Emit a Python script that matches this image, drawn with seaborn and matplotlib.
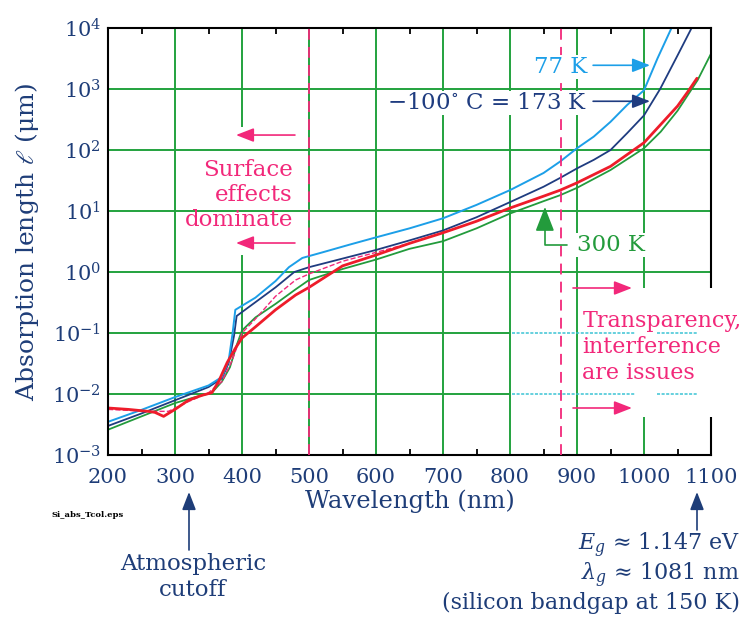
import matplotlib
matplotlib.use("Agg")
import matplotlib.pyplot as plt
import pandas as pd
import seaborn as sns
from matplotlib.patches import Rectangle
from matplotlib.ticker import FixedLocator, LogLocator, NullLocator

# absorption length of Si (um) vs wavelength (nm)
wl_77k = [200, 250, 300, 350, 370, 380, 386, 390, 420, 450, 470, 490, 520, 560, 600,
          650, 700, 750, 800, 850, 875, 900, 925, 950, 975, 1000, 1020, 1041]
len_77k = [0.0035, 0.0055, 0.0089, 0.0138, 0.019, 0.035, 0.10, 0.24, 0.38, 0.71, 1.2,
           1.7, 2.1, 2.8, 3.7, 5.2, 7.6, 12.6, 22, 42, 65, 107, 166, 290, 550, 955,
           3160, 10000]

wl_173k = [200, 250, 300, 350, 370, 380, 388, 392, 420, 450, 478, 500, 550, 600, 650,
           700, 750, 800, 850, 875, 900, 925, 950, 975, 1000, 1024, 1050, 1071]
len_173k = [0.0030, 0.0048, 0.0079, 0.013, 0.018, 0.032, 0.089, 0.19, 0.32, 0.56, 1.0,
            1.2, 1.66, 2.3, 3.3, 4.8, 7.9, 14, 25, 35, 50, 69, 100, 190, 370, 1000,
            3550, 10000]

wl_red = [200, 230, 260, 270, 283, 300, 320, 340, 355, 365, 378, 390, 400, 420, 450,
          480, 500, 550, 600, 650, 700, 750, 800, 850, 875, 900, 950, 1000, 1025, 1050,
          1065, 1079]
len_red = [0.0059, 0.0056, 0.0052, 0.0050, 0.0043, 0.0056, 0.0079, 0.0095, 0.0105, 0.016,
           0.033, 0.056, 0.083, 0.126, 0.24, 0.42, 0.56, 1.26, 1.9, 2.95, 4.4, 6.8, 11.2,
           17.5, 22, 29, 54, 132, 263, 525, 890, 1500]

wl_300k = [200, 250, 300, 330, 355, 370, 382, 392, 400, 420, 450, 480, 500, 550, 600,
           650, 700, 750, 800, 850, 875, 900, 950, 1000, 1025, 1050, 1080, 1100]
len_300k = [0.0026, 0.0043, 0.0071, 0.0089, 0.0105, 0.016, 0.0275, 0.063, 0.11, 0.18,
            0.30, 0.52, 0.74, 1.12, 1.6, 2.4, 3.2, 5.2, 9.1, 14.5, 18.2, 24, 47, 107,
            200, 440, 1400, 3800]

wl_dash = [200, 260, 290, 320, 350, 370, 385, 400, 420, 450, 480, 500, 550, 600, 650]
len_dash = [0.0056, 0.0052, 0.0052, 0.0075, 0.0105, 0.016, 0.035, 0.10, 0.17, 0.40,
            0.74, 0.93, 1.5, 2.1, 2.95]

x_ticks = [200, 300, 400, 500, 600, 700, 800, 900, 1000, 1100]
surface_limit_nm = 500
transparency_limit_nm = 876

NAVY = "#1e3d78"
GRID = "#22a23e"
PINK = "#f2287a"
LIGHT_BLUE = "#1c9fe8"
DARK_BLUE = "#1f3c80"
RED = "#ee1c2a"
GREEN = "#239b3c"
CYAN = "#3cc4d4"

sns.set_theme(style="white")
plt.rcParams["font.family"] = ["DejaVu Serif"]
plt.rcParams["mathtext.fontset"] = "dejavuserif"

fig, ax = plt.subplots(figsize=(7.49, 6.2), dpi=100)
fig.subplots_adjust(left=0.1442, right=0.9493, bottom=0.2661, top=0.9548)

ax.set_yscale("log")
ax.set_xlim(200, 1100)
ax.set_ylim(1e-3, 1e4)

# grid drawn by hand, it has gaps in the original
for x in x_ticks[1:-1]:
    if x == 400:
        ax.vlines([x, x], [1e-3, 240], [1.9, 1e4], color=GRID, lw=1.4, zorder=1)
    else:
        ax.axvline(x, color=GRID, lw=1.4, zorder=1)
for e in range(-2, 4):
    if e < 0:
        ax.hlines(10.0 ** e, 200, 800, color=GRID, lw=1.4, zorder=1)
    else:
        ax.axhline(10.0 ** e, color=GRID, lw=1.4, zorder=1)

curves = [
    (wl_300k, len_300k, GREEN, 1.3, "-"),
    (wl_173k, len_173k, DARK_BLUE, 1.3, "-"),
    (wl_77k, len_77k, LIGHT_BLUE, 1.4, "-"),
    (wl_dash, len_dash, PINK, 1.0, "--"),
    (wl_red, len_red, RED, 2.0, "-"),
]
for i, (wl, ln, color, lw, ls) in enumerate(curves):
    frame = pd.DataFrame({"wavelength_nm": wl, "length_um": ln})
    sns.lineplot(data=frame, x="wavelength_nm", y="length_um", color=color, lw=lw,
                 linestyle=ls, estimator=None, ax=ax, zorder=2 + i * 0.1)

for x in (surface_limit_nm, transparency_limit_nm):
    ax.axvline(x, color=PINK, lw=1.3, dashes=(6, 4), zorder=4)

# white patch behind the "transparency" note (cuts grid and right spine)
ax.add_patch(Rectangle((909, 0.0042), 250, 0.55 - 0.0042, facecolor="white",
                       edgecolor="none", clip_on=False, zorder=2.6))
for y in (0.1, 0.01):
    for x0, x1 in ((803, 986), (1019, 1081)):
        ax.plot([x0, x1], [y, y], color=CYAN, lw=1.1, ls=(0, (2, 1)), zorder=3.5)

for side in ax.spines.values():
    side.set_color("black")
    side.set_linewidth(1.5)

ax.xaxis.set_major_locator(FixedLocator(x_ticks))
ax.xaxis.set_minor_locator(FixedLocator([x + 50 for x in x_ticks[:-1]]))
ax.yaxis.set_major_locator(LogLocator(base=10, numticks=10))
ax.yaxis.set_minor_locator(NullLocator())
ax.tick_params(axis="x", which="major", length=0, pad=9, labelsize=15, labelcolor=NAVY)
ax.tick_params(axis="x", which="minor", direction="in", length=4, width=1.3,
               color="black", top=True, bottom=True)
ax.tick_params(axis="y", which="major", length=0, pad=5, labelsize=15, labelcolor=NAVY)

ax.set_xlabel("Wavelength (nm)", fontsize=17.5, color=NAVY, labelpad=2)
ax.set_ylabel(r"Absorption length $\ell$ (μm)", fontsize=18, color=NAVY, labelpad=8)


def arrow(start, end, color, coords="data"):
    ax.annotate("", xy=end, xytext=start, xycoords=coords, textcoords=coords,
                annotation_clip=False,
                arrowprops=dict(arrowstyle="-|>,head_length=0.9,head_width=0.35",
                                color=color, lw=1.2, shrinkA=0, shrinkB=0),
                zorder=5)


note = dict(fontsize=16.5, zorder=5)
ax.text(915, 2290, "77 K", color=LIGHT_BLUE, ha="right", va="center",
        bbox=dict(fc="white", ec="none", pad=1), **note)
arrow((924, 2450), (1009, 2450), LIGHT_BLUE)
ax.text(915, 590, r"$-$100$^{\circ}$ C = 173 K", color=DARK_BLUE, ha="right",
        va="center", bbox=dict(fc="white", ec="none", pad=1), **note)
arrow((924, 630), (1009, 630), DARK_BLUE)

ax.annotate("300 K", xy=(852, 11.6), xytext=(900, 2.77), color=GREEN, ha="left",
            va="center", fontsize=16.5, zorder=5,
            bbox=dict(fc="white", ec="none", pad=1),
            arrowprops=dict(arrowstyle="-|>,head_length=0.9,head_width=0.35",
                            color=GREEN, lw=1.2, shrinkA=6, shrinkB=0,
                            connectionstyle="angle,angleA=0,angleB=90,rad=0"))

ax.text(476, 18.3, "Surface\neffects\ndominate", color=PINK, ha="right", va="center",
        multialignment="right", linespacing=1.2, **note)
arrow((479, 176), (391, 176), PINK)
arrow((479, 2.99), (391, 2.99), PINK)

ax.text(908, 0.059, "Transparency,\ninterference\nare issues", color=PINK, ha="left",
        va="center", multialignment="left", linespacing=1.25, fontsize=16, zorder=5)
arrow((894, 0.547), (982, 0.547), PINK)
arrow((894, 0.0059), (982, 0.0059), PINK)

# notes under the axes, placed in figure pixels
H = 620
arrow((189, H - 550), (189, H - 492), NAVY, coords="figure pixels")
fig.text(193 / 749, 1 - 577 / H, "Atmospheric\ncutoff", color=NAVY, ha="center",
         va="center", fontsize=16.5, linespacing=1.2)
arrow((697, H - 530), (697, H - 492), NAVY, coords="figure pixels")
fig.text(740 / 749, 1 - 545 / H, r"$E_g$ ≈ 1.147 eV", color=NAVY, ha="right",
         va="center", fontsize=16)
fig.text(740 / 749, 1 - 575 / H, r"$\lambda_g$ ≈ 1081 nm", color=NAVY, ha="right",
         va="center", fontsize=16)
fig.text(740 / 749, 1 - 603 / H, "(silicon bandgap at 150 K)", color=NAVY, ha="right",
         va="center", fontsize=16)
fig.text(52 / 749, 1 - 515 / H, "Si_abs_Tcol.eps", color="black", ha="left",
         va="center", fontsize=6, fontweight="bold")

fig.savefig("out.png", dpi=100)
